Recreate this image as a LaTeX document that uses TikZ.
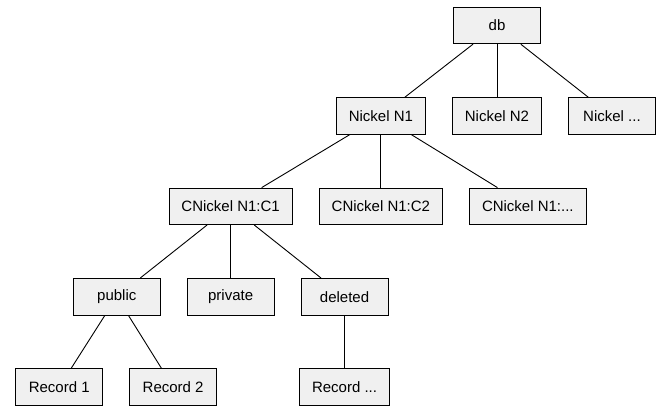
\documentclass[tikz,border=0pt]{standalone}
\usepackage{fontspec}
\setmainfont{Liberation Sans}
\usepackage{xcolor}
\usetikzlibrary{positioning}

\definecolor{boxfill}{HTML}{F0F0F0}

\begin{document}
\begin{tikzpicture}[node distance=53pt and 26pt, line width=0.9pt,
    box/.style={draw, fill=boxfill, minimum width=87pt, minimum height=36.5pt,
        inner xsep=12.5pt, font=\fontsize{15}{18}\selectfont}]

    % Marco fijo del dibujo
    \useasboundingbox (0,0) rectangle (659pt,-412pt);

    % Raíz y primer nivel
    \node[box] (db) at (497pt,-25.5pt) {db};
    \node[box] (N2) [below=of db] {Nickel N2};
    \node[box] (N1) [left=of N2] {Nickel N1};
    \node[box] (N3) [right=of N2] {Nickel ...};

    % Colecciones bajo Nickel N1
    \node[box] (C2) [below=of N1] {CNickel N1:C2};
    \node[box] (C1) [left=of C2] {CNickel N1:C1};
    \node[box] (C3) [right=of C2] {CNickel N1:...};

    % Particiones de CNickel N1:C1
    \node[box] (priv) [below=of C1] {private};
    \node[box] (pub) [left=of priv] {public};
    \node[box] (del) [right=of priv] {deleted};

    % Registros, centrados en pares bajo public
    \node[box] (R1) [below=of pub, xshift=-57.5pt] {Record 1};
    \node[box] (R2) [right=of R1] {Record 2};
    \node[box] (R3) [below=of del] {Record ...};

    \path
    (db) edge (N1)
    (db) edge (N2)
    (db) edge (N3)
    (N1) edge (C1)
    (N1) edge (C2)
    (N1) edge (C3)
    (C1) edge (pub)
    (C1) edge (priv)
    (C1) edge (del)
    (pub) edge (R1)
    (pub) edge (R2)
    (del) edge (R3);
\end{tikzpicture}
\end{document}
